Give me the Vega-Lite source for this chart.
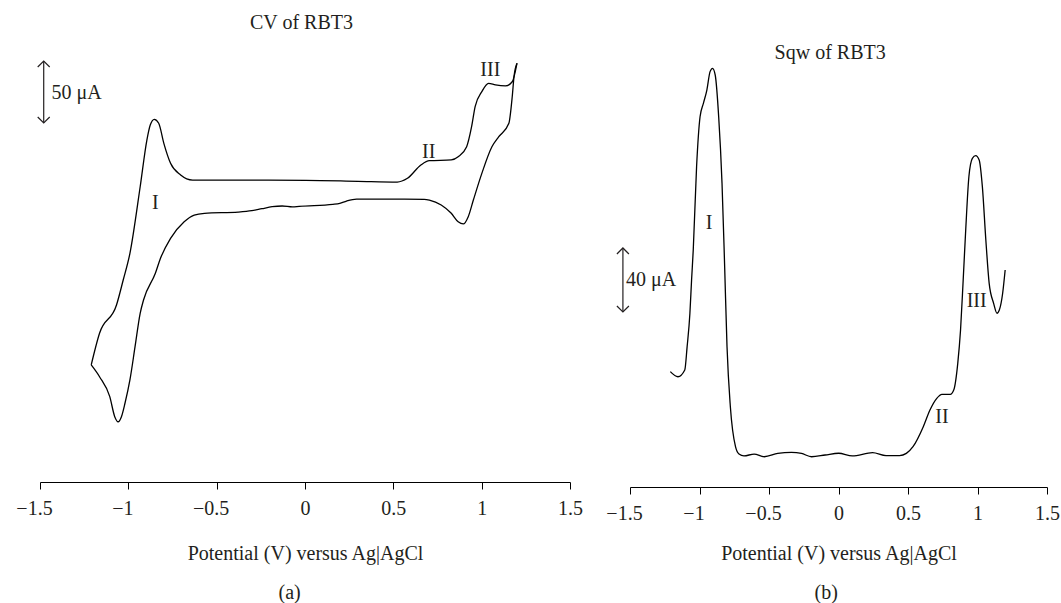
{
  "$schema": "https://vega.github.io/schema/vega-lite/v6.json",
  "padding": {"left": 15, "top": 12, "right": 0, "bottom": 0},
  "background": "white",
  "config": {
    "view": {"stroke": null},
    "font": "Liberation Serif",
    "text": {"font": "Liberation Serif", "fontSize": 20, "color": "#231f20", "baseline": "middle"},
    "axisX": {
      "grid": false,
      "domainColor": "#000000",
      "domainWidth": 1,
      "tickColor": "#000000",
      "tickWidth": 1,
      "tickSize": 7,
      "labelFont": "Liberation Serif",
      "labelFontSize": 20,
      "labelColor": "#231f20",
      "labelBaseline": "middle",
      "labelPadding": 19,
      "labelFlush": false,
      "labelOverlap": false,
      "titleFont": "Liberation Serif",
      "titleFontSize": 20,
      "titleFontWeight": "normal",
      "titleColor": "#231f20",
      "titleBaseline": "middle"
    }
  },
  "datasets": {
    "cv": [
      {"branch": "upper", "potential": -1.21, "current": 94.4},
      {"branch": "upper", "potential": -1.163, "current": 119.9},
      {"branch": "upper", "potential": -1.067, "current": 142.7},
      {"branch": "upper", "potential": -1.029, "current": 162.9},
      {"branch": "upper", "potential": -0.991, "current": 184.4},
      {"branch": "upper", "potential": -0.933, "current": 238.1},
      {"branch": "upper", "potential": -0.895, "current": 275.8},
      {"branch": "upper", "potential": -0.876, "current": 287.9},
      {"branch": "upper", "potential": -0.853, "current": 292.5},
      {"branch": "upper", "potential": -0.828, "current": 289.3},
      {"branch": "upper", "potential": -0.799, "current": 273.1},
      {"branch": "upper", "potential": -0.761, "current": 257.0},
      {"branch": "upper", "potential": -0.704, "current": 247.6},
      {"branch": "upper", "potential": -0.636, "current": 243.5},
      {"branch": "upper", "potential": -0.3, "current": 243.4},
      {"branch": "upper", "potential": 0.005, "current": 243.3},
      {"branch": "upper", "potential": 0.3, "current": 242.5},
      {"branch": "upper", "potential": 0.522, "current": 241.9},
      {"branch": "upper", "potential": 0.58, "current": 244.9},
      {"branch": "upper", "potential": 0.656, "current": 255.6},
      {"branch": "upper", "potential": 0.704, "current": 259.1},
      {"branch": "upper", "potential": 0.828, "current": 259.7},
      {"branch": "upper", "potential": 0.867, "current": 262.3},
      {"branch": "upper", "potential": 0.915, "current": 270.4},
      {"branch": "upper", "potential": 0.943, "current": 286.5},
      {"branch": "upper", "potential": 0.963, "current": 302.7},
      {"branch": "upper", "potential": 1.001, "current": 314.8},
      {"branch": "upper", "potential": 1.039, "current": 321.5},
      {"branch": "upper", "potential": 1.078, "current": 320.2},
      {"branch": "upper", "potential": 1.135, "current": 319.4},
      {"branch": "upper", "potential": 1.173, "current": 322.8},
      {"branch": "upper", "potential": 1.2, "current": 337.7},
      {"branch": "lower", "potential": -1.21, "current": 94.4},
      {"branch": "lower", "potential": -1.163, "current": 84.9},
      {"branch": "lower", "potential": -1.105, "current": 68.8},
      {"branch": "lower", "potential": -1.077, "current": 52.7},
      {"branch": "lower", "potential": -1.058, "current": 48.6},
      {"branch": "lower", "potential": -1.039, "current": 52.7},
      {"branch": "lower", "potential": -1.019, "current": 63.5},
      {"branch": "lower", "potential": -0.991, "current": 82.3},
      {"branch": "lower", "potential": -0.962, "current": 109.1},
      {"branch": "lower", "potential": -0.933, "current": 136.0},
      {"branch": "lower", "potential": -0.914, "current": 146.8},
      {"branch": "lower", "potential": -0.847, "current": 168.3},
      {"branch": "lower", "potential": -0.818, "current": 180.4},
      {"branch": "lower", "potential": -0.761, "current": 196.5},
      {"branch": "lower", "potential": -0.684, "current": 209.9},
      {"branch": "lower", "potential": -0.627, "current": 215.3},
      {"branch": "lower", "potential": -0.569, "current": 216.7},
      {"branch": "lower", "potential": -0.378, "current": 217.7},
      {"branch": "lower", "potential": -0.301, "current": 218.8},
      {"branch": "lower", "potential": -0.244, "current": 220.4},
      {"branch": "lower", "potential": -0.186, "current": 222.0},
      {"branch": "lower", "potential": -0.129, "current": 222.6},
      {"branch": "lower", "potential": -0.071, "current": 221.8},
      {"branch": "lower", "potential": -0.033, "current": 222.3},
      {"branch": "lower", "potential": 0.158, "current": 223.9},
      {"branch": "lower", "potential": 0.197, "current": 224.7},
      {"branch": "lower", "potential": 0.235, "current": 226.6},
      {"branch": "lower", "potential": 0.292, "current": 228.2},
      {"branch": "lower", "potential": 0.675, "current": 228.0},
      {"branch": "lower", "potential": 0.704, "current": 227.4},
      {"branch": "lower", "potential": 0.771, "current": 223.4},
      {"branch": "lower", "potential": 0.828, "current": 216.7},
      {"branch": "lower", "potential": 0.867, "current": 209.9},
      {"branch": "lower", "potential": 0.896, "current": 208.1},
      {"branch": "lower", "potential": 0.924, "current": 214.0},
      {"branch": "lower", "potential": 0.953, "current": 227.4},
      {"branch": "lower", "potential": 1.001, "current": 248.9},
      {"branch": "lower", "potential": 1.058, "current": 270.4},
      {"branch": "lower", "potential": 1.097, "current": 278.5},
      {"branch": "lower", "potential": 1.154, "current": 289.3},
      {"branch": "lower", "potential": 1.173, "current": 310.7},
      {"branch": "lower", "potential": 1.183, "current": 326.9},
      {"branch": "lower", "potential": 1.2, "current": 337.7}
    ],
    "sqw": [
      {"potential": -1.21, "current": 72.1},
      {"potential": -1.155, "current": 68.9},
      {"potential": -1.106, "current": 73.1},
      {"potential": -1.089, "current": 87.7},
      {"potential": -1.069, "current": 108.6},
      {"potential": -1.057, "current": 129.4},
      {"potential": -1.045, "current": 148.1},
      {"potential": -1.021, "current": 200.2},
      {"potential": -0.996, "current": 231.4},
      {"potential": -0.972, "current": 239.8},
      {"potential": -0.947, "current": 248.1},
      {"potential": -0.924, "current": 259.6},
      {"potential": -0.906, "current": 261.7},
      {"potential": -0.887, "current": 257.5},
      {"potential": -0.862, "current": 231.4},
      {"potential": -0.838, "current": 189.8},
      {"potential": -0.819, "current": 137.7},
      {"potential": -0.802, "current": 87.7},
      {"potential": -0.778, "current": 50.2},
      {"potential": -0.741, "current": 25.2},
      {"potential": -0.716, "current": 20.6},
      {"potential": -0.68, "current": 19.4},
      {"potential": -0.607, "current": 20.6},
      {"potential": -0.534, "current": 18.9},
      {"potential": -0.437, "current": 21.0},
      {"potential": -0.339, "current": 21.7},
      {"potential": -0.266, "current": 21.0},
      {"potential": -0.194, "current": 18.9},
      {"potential": -0.096, "current": 20.0},
      {"potential": 0.001, "current": 21.1},
      {"potential": 0.099, "current": 19.4},
      {"potential": 0.245, "current": 21.5},
      {"potential": 0.342, "current": 19.6},
      {"potential": 0.439, "current": 19.6},
      {"potential": 0.488, "current": 21.0},
      {"potential": 0.536, "current": 25.2},
      {"potential": 0.61, "current": 37.7},
      {"potential": 0.658, "current": 48.1},
      {"potential": 0.707, "current": 55.4},
      {"potential": 0.744, "current": 57.9},
      {"potential": 0.804, "current": 57.9},
      {"potential": 0.829, "current": 60.6},
      {"potential": 0.858, "current": 77.3},
      {"potential": 0.878, "current": 98.1},
      {"potential": 0.897, "current": 129.4},
      {"potential": 0.914, "current": 158.6},
      {"potential": 0.938, "current": 193.9},
      {"potential": 0.963, "current": 205.4},
      {"potential": 0.987, "current": 207.1},
      {"potential": 1.012, "current": 204.4},
      {"potential": 1.035, "current": 187.7},
      {"potential": 1.06, "current": 154.4},
      {"potential": 1.084, "current": 127.3},
      {"potential": 1.116, "current": 114.8},
      {"potential": 1.14, "current": 108.6},
      {"potential": 1.157, "current": 110.6},
      {"potential": 1.181, "current": 121.1},
      {"potential": 1.199, "current": 135.6}
    ],
    "scale_a": [{"potential": -1.479, "current": 289.5, "current2": 339.5}],
    "scale_b": [{"potential": -1.551, "current": 109.4, "current2": 149.4}],
    "labels_a": [
      {"kind": "title", "potential": -0.02, "current": 370.2, "label": "CV of RBT3"},
      {"kind": "peak", "potential": -0.847, "current": 224.7, "label": "I"},
      {"kind": "peak", "potential": 0.7, "current": 266.4, "label": "II"},
      {"kind": "peak", "potential": 1.049, "current": 332.3, "label": "III"},
      {"kind": "panel", "potential": -0.087, "current": -89.8, "label": "(a)"},
      {"kind": "scale", "potential": -1.435, "current": 313.7, "label": "50 μA"}
    ],
    "labels_b": [
      {"kind": "title", "potential": -0.06, "current": 271.25, "label": "Sqw of RBT3"},
      {"kind": "peak", "potential": -0.931, "current": 165.2, "label": "I"},
      {"kind": "peak", "potential": 0.744, "current": 43.6, "label": "II"},
      {"kind": "peak", "potential": 0.994, "current": 116.4, "label": "III"},
      {"kind": "panel", "potential": -0.089, "current": -66.4, "label": "(b)"},
      {"kind": "scale", "potential": -1.529, "current": 129.4, "label": "40 μA"}
    ]
  },
  "bounds": "flush",
  "spacing": 60,
  "hconcat": [
    {
      "width": 530,
      "height": 442,
      "layer": [
        {
          "data": {"name": "cv"},
          "mark": {"type": "line", "interpolate": "monotone", "color": "#000000", "strokeWidth": 1.3},
          "encoding": {
            "x": {
              "field": "potential", "type": "quantitative",
              "scale": {"domain": [-1.5, 1.5], "nice": false, "zero": false},
              "axis": {
                "values": [-1.5, -1, -0.5, 0, 0.5, 1, 1.5],
                "format": "~g",
                "title": "Potential (V) versus Ag|AgCl",
                "titleY": 71,
                "labelOffset": {"condition": {"test": "datum.value < 0", "value": -6}, "value": 0}
              }
            },
            "y": {
              "field": "current", "type": "quantitative",
              "scale": {"domain": [0, 356.45], "nice": false, "zero": false},
              "axis": null
            },
            "detail": {"field": "branch", "type": "nominal"}
          }
        },
        {
          "data": {"name": "scale_a"},
          "mark": {"type": "rule", "color": "#231f20", "strokeWidth": 1.2},
          "encoding": {
            "x": {"field": "potential", "type": "quantitative"},
            "y": {"field": "current", "type": "quantitative"},
            "y2": {"field": "current2"}
          }
        },
        {
          "data": {"name": "scale_a"},
          "mark": {"type": "point", "shape": "M-1,1L0,0L1,1", "filled": false, "color": "#231f20", "strokeWidth": 1.2, "size": 144, "opacity": 1},
          "encoding": {
            "x": {"field": "potential", "type": "quantitative"},
            "y": {"field": "current2", "type": "quantitative"}
          }
        },
        {
          "data": {"name": "scale_a"},
          "mark": {"type": "point", "shape": "M-1,-1L0,0L1,-1", "filled": false, "color": "#231f20", "strokeWidth": 1.2, "size": 144, "opacity": 1},
          "encoding": {
            "x": {"field": "potential", "type": "quantitative"},
            "y": {"field": "current", "type": "quantitative"}
          }
        },
        {
          "data": {"name": "labels_a"},
          "transform": [{"filter": "datum.kind !== 'scale'"}],
          "mark": {"type": "text", "align": "center"},
          "encoding": {
            "x": {"field": "potential", "type": "quantitative"},
            "y": {"field": "current", "type": "quantitative"},
            "text": {"field": "label"}
          }
        },
        {
          "data": {"name": "labels_a"},
          "transform": [{"filter": "datum.kind === 'scale'"}],
          "mark": {"type": "text", "align": "left"},
          "encoding": {
            "x": {"field": "potential", "type": "quantitative"},
            "y": {"field": "current", "type": "quantitative"},
            "text": {"field": "label"}
          }
        }
      ]
    },
    {
      "width": 417,
      "height": 447,
      "layer": [
        {
          "data": {"name": "sqw"},
          "mark": {"type": "line", "interpolate": "monotone", "color": "#000000", "strokeWidth": 1.3},
          "encoding": {
            "x": {
              "field": "potential", "type": "quantitative",
              "scale": {"domain": [-1.5, 1.5], "nice": false, "zero": false},
              "axis": {
                "values": [-1.5, -1, -0.5, 0, 0.5, 1, 1.5],
                "format": "~g",
                "title": "Potential (V) versus Ag|AgCl",
                "titleY": 66,
                "labelOffset": {"condition": {"test": "datum.value < 0", "value": -6}, "value": 0}
              }
            },
            "y": {
              "field": "current", "type": "quantitative",
              "scale": {"domain": [0, 279.375], "nice": false, "zero": false},
              "axis": null
            }
          }
        },
        {
          "data": {"name": "scale_b"},
          "mark": {"type": "rule", "color": "#231f20", "strokeWidth": 1.2},
          "encoding": {
            "x": {"field": "potential", "type": "quantitative"},
            "y": {"field": "current", "type": "quantitative"},
            "y2": {"field": "current2"}
          }
        },
        {
          "data": {"name": "scale_b"},
          "mark": {"type": "point", "shape": "M-1,1L0,0L1,1", "filled": false, "color": "#231f20", "strokeWidth": 1.2, "size": 144, "opacity": 1},
          "encoding": {
            "x": {"field": "potential", "type": "quantitative"},
            "y": {"field": "current2", "type": "quantitative"}
          }
        },
        {
          "data": {"name": "scale_b"},
          "mark": {"type": "point", "shape": "M-1,-1L0,0L1,-1", "filled": false, "color": "#231f20", "strokeWidth": 1.2, "size": 144, "opacity": 1},
          "encoding": {
            "x": {"field": "potential", "type": "quantitative"},
            "y": {"field": "current", "type": "quantitative"}
          }
        },
        {
          "data": {"name": "labels_b"},
          "transform": [{"filter": "datum.kind !== 'scale'"}],
          "mark": {"type": "text", "align": "center"},
          "encoding": {
            "x": {"field": "potential", "type": "quantitative"},
            "y": {"field": "current", "type": "quantitative"},
            "text": {"field": "label"}
          }
        },
        {
          "data": {"name": "labels_b"},
          "transform": [{"filter": "datum.kind === 'scale'"}],
          "mark": {"type": "text", "align": "left"},
          "encoding": {
            "x": {"field": "potential", "type": "quantitative"},
            "y": {"field": "current", "type": "quantitative"},
            "text": {"field": "label"}
          }
        }
      ]
    }
  ]
}
